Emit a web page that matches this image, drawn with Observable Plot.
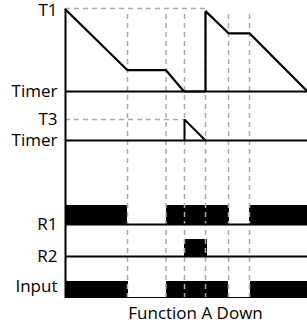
<!DOCTYPE html>
<html><head><meta charset="utf-8">
<script src="https://cdn.jsdelivr.net/npm/d3@7"></script>
<script src="https://cdn.jsdelivr.net/npm/@observablehq/plot@0.6"></script>
<style>body{margin:0;background:#fff;} svg{display:block;overflow:visible;}</style>
</head><body><div id="chart"></div>
<script>
// Event times (arbitrary time units)
const eventTimes = [6.2, 10.05, 11.9, 14.0, 16.3, 18.4];
const tEnd = 24.2;

// Timer 1 trace: [time, fraction of T1]
const timer1Trace = [[0,1],[6.2,0.26],[10.05,0.26],[11.85,0],[14.0,0],[14.0,0.98],[16.3,0.71],[18.4,0.71],[24.2,0]];
// Timer 3 trace: [time, fraction of T3]
const timer3Trace = [[11.9,0],[11.9,1],[14.0,0]];

// High intervals of the digital signals
const r1High = [[0,6.2],[10.1,16.4],[18.4,24.2]];
const r2High = [[11.9,14.2]];
const inputHigh = [[0,6.3],[10.1,16.3],[18.5,24.2]];

const rowLabels = ["T1","Timer","T3","Timer","R1","R2","Input"];
const caption = "Function A Down";

// Lane layout (y units)
const lane = {
  timer1: {base: 207, h: 82},
  timer3: {base: 158, h: 21},
  r1: {base: 74, h: 19},
  r2: {base: 42, h: 17},
  input: {base: 1, h: 16}
};
const labelY = [lane.timer1.base + lane.timer1.h - 1.5, lane.timer1.base, lane.timer3.base + lane.timer3.h, lane.timer3.base, lane.r1.base, lane.r2.base, lane.input.base + 11];

const t1 = timer1Trace.map(([t,f]) => ({t, y: lane.timer1.base + f*lane.timer1.h}));
const t3 = timer3Trace.map(([t,f]) => ({t, y: lane.timer3.base + f*lane.timer3.h}));
const rects = (arr, L) => arr.map(([a,b]) => ({x1:a, x2:b, y1:L.base, y2:L.base+L.h}));
const font = "'Open Sans', Lato, sans-serif";

const chart = Plot.plot({
  width: 307, height: 327,
  marginLeft: 65, marginRight: 0, marginTop: 9, marginBottom: 29,
  x: {domain: [0, tEnd], axis: null},
  y: {domain: [0, 289], axis: null},
  style: {fontFamily: font, background: "#fff"},
  marks: [
    Plot.rect(rects(r1High, lane.r1), {x1:"x1", x2:"x2", y1:"y1", y2:"y2", fill:"#000"}),
    Plot.rect(rects(r2High, lane.r2), {x1:"x1", x2:"x2", y1:"y1", y2:"y2", fill:"#000"}),
    Plot.rect(rects(inputHigh, lane.input), {x1:"x1", x2:"x2", y1:"y1", y2:"y2", fill:"#000"}),
    Plot.ruleX(eventTimes, {y1: 0, y2: 286, stroke: "#aaa", strokeWidth: 1.5, strokeDasharray: "5,4"}),
    Plot.ruleY([lane.timer1.base + lane.timer1.h + 1], {x1: 0, x2: 14.0, stroke: "#aaa", strokeWidth: 1.5, strokeDasharray: "5,4"}),
    Plot.ruleY([lane.timer3.base + lane.timer3.h], {x1: 0, x2: 11.9, stroke: "#aaa", strokeWidth: 1.5, strokeDasharray: "5,4"}),
    Plot.ruleY([lane.timer1.base, lane.timer3.base, lane.r1.base, lane.r2.base], {x1: 0, x2: tEnd, stroke: "#000", strokeWidth: 2}),
    Plot.ruleY([lane.input.base], {x1: 0, x2: tEnd, stroke: "#000", strokeWidth: 1}),
    Plot.line(t1, {x: "t", y: "y", stroke: "#000", strokeWidth: 2.2, strokeLinejoin: "miter"}),
    Plot.line(t3, {x: "t", y: "y", stroke: "#000", strokeWidth: 2, strokeLinejoin: "miter"}),
    Plot.ruleX([0], {y1: 0, y2: lane.timer1.base + lane.timer1.h, stroke: "#000", strokeWidth: 2}),
    Plot.text(rowLabels, {x: 0, y: (d, i) => labelY[i], text: d => d, dx: -8, textAnchor: "end", fontSize: 17, fill: "#000"}),
    Plot.text([caption], {x: tEnd/2, y: -15, text: d => d, dx: 9, fontSize: 17, fill: "#000"})
  ]
});
document.getElementById("chart").appendChild(chart);
</script></body></html>
